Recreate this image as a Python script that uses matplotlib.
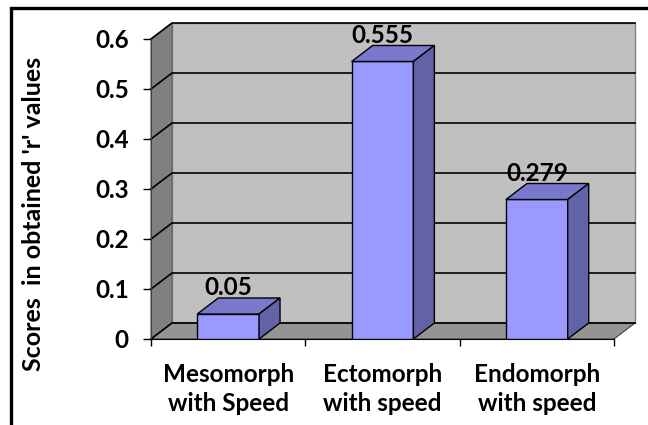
import matplotlib
matplotlib.use('Agg')
from matplotlib import pyplot as plt
from matplotlib.patches import Polygon, Rectangle

categories = ['Mesomorph\nwith Speed', 'Ectomorph\nwith speed', 'Endomorph\nwith speed']
scores = [0.05, 0.555, 0.279]
y_ticks = [0, 0.1, 0.2, 0.3, 0.4, 0.5, 0.6]

plt.rcParams['font.family'] = ['Lato', 'DejaVu Sans']
plt.rcParams['font.weight'] = 'bold'

fig = plt.figure(figsize=(6.48, 4.25), dpi=100)
ax = fig.add_axes([151 / 648, 86 / 425, 463 / 648, 300 / 425])
x0, x1 = -0.5, len(categories) - 0.5
top = y_ticks[-1]
ax.set_xlim(x0, x1)
ax.set_ylim(0, top)
ax.patch.set_visible(False)

# depth of the 3d look, pixels -> data units
dx = 21 / ax.bbox.width * (x1 - x0)
dy = 16 / ax.bbox.height * top

# walls and floor
ax.add_patch(Rectangle((x0 + dx, dy), x1 - x0, top, fc='#c0c0c0', ec='#808080',
                       lw=1, clip_on=False, zorder=1))
ax.add_patch(Polygon([(x0, 0), (x0, top), (x0 + dx, top + dy), (x0 + dx, dy)],
                     fc='#808080', ec='#606060', lw=0.8, clip_on=False, zorder=1))
ax.add_patch(Polygon([(x0, 0), (x1, 0), (x1 + dx, dy), (x0 + dx, dy)],
                     fc='#949494', ec='#404040', lw=0.8, clip_on=False, zorder=1))

for v in y_ticks:
    ax.plot([x0, x0 + dx, x1 + dx], [v, v + dy, v + dy], color='black', lw=1.2,
            clip_on=False, zorder=2)

# bars
w = 0.4
for i, v in enumerate(scores):
    l, r = i - w / 2, i + w / 2
    ax.add_patch(Rectangle((l, 0), w, v, fc='#9999ff', ec='black', lw=1, zorder=3))
    ax.add_patch(Polygon([(l, v), (r, v), (r + dx, v + dy), (l + dx, v + dy)],
                         fc='#7878cc', ec='black', lw=1, zorder=3, clip_on=False))
    ax.add_patch(Polygon([(r, 0), (r, v), (r + dx, v + dy), (r + dx, dy)],
                         fc='#6262a6', ec='black', lw=1, zorder=3, clip_on=False))
    ax.annotate(str(v), (i, v + dy), xytext=(0, -1), textcoords='offset points',
                ha='center', va='bottom', fontsize=17.5, fontweight='bold', zorder=4)

for s in ['top', 'right']:
    ax.spines[s].set_visible(False)
ax.spines['left'].set_color('#404040')
ax.spines['bottom'].set_color('black')
ax.spines['bottom'].set_zorder(2.5)

ax.set_yticks(y_ticks)
ax.set_yticklabels([f'{t:g}' for t in y_ticks])
ax.tick_params(axis='y', length=6, width=1, pad=10, labelsize=17.5)
ax.set_xticks(range(len(categories)))
ax.set_xticklabels(categories, linespacing=1.35)
ax.set_xticks([x0 + k for k in range(len(categories) + 1)], minor=True)
ax.tick_params(axis='x', which='major', length=0, pad=17, labelsize=17.5)
ax.tick_params(axis='x', which='minor', length=5, width=1)

fig.text(34 / 648, 1 - 214 / 425, "Scores  in obtained 'r' values", rotation=90,
         ha='center', va='center', fontsize=18, fontweight='bold')

# chart frame
fig.patches.append(Rectangle((10.5 / 648, -0.1), 1.2, (425 - 7.5) / 425 + 0.1,
                             transform=fig.transFigure, fill=False, lw=2.4, ec='black'))

fig.savefig('out.png', dpi=100)
